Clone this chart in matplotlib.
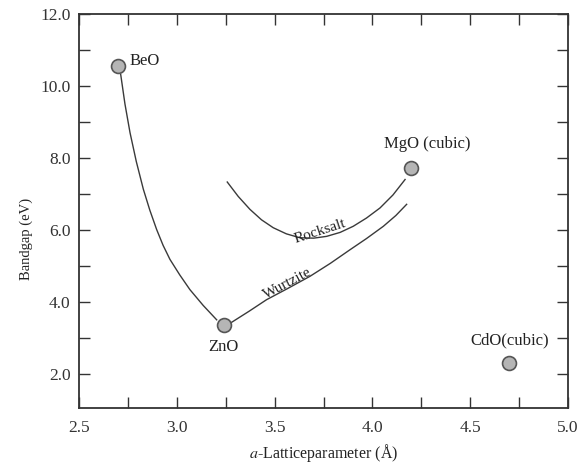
import matplotlib
matplotlib.use("Agg")
import matplotlib.pyplot as plt
from matplotlib.ticker import MultipleLocator

plt.rcParams['font.family'] = ['Liberation Serif', 'DejaVu Serif']
plt.rcParams['mathtext.fontset'] = 'stix'

# Compounds (marker points)
names = ["BeO", "ZnO", "MgO (cubic)", "CdO(cubic)"]
lattice = [2.70, 3.24, 4.196, 4.70]
gap = [10.55, 3.36, 7.73, 2.30]

# BeO -> ZnO curve
beo_zno_x = [2.713, 2.735, 2.761, 2.793, 2.829, 2.862, 2.897, 2.93, 2.965, 3.015, 3.067, 3.135, 3.204]
beo_zno_y = [10.33, 9.5, 8.70, 7.9, 7.13, 6.55, 6.01, 5.57, 5.18, 4.75, 4.34, 3.9, 3.50]

# Rocksalt curve
rock_x = [3.258, 3.314, 3.374, 3.433, 3.493, 3.56, 3.630, 3.70, 3.766, 3.835, 3.902, 3.97, 4.039, 4.105, 4.167]
rock_y = [7.33, 6.93, 6.57, 6.28, 6.06, 5.89, 5.78, 5.77, 5.82, 5.93, 6.10, 6.33, 6.61, 6.97, 7.40]

# Wurtzite curve
wurtz_x = [3.28, 3.37, 3.459, 3.57, 3.681, 3.785, 3.886, 3.97, 4.056, 4.12, 4.175]
wurtz_y = [3.43, 3.74, 4.06, 4.38, 4.71, 5.07, 5.45, 5.76, 6.10, 6.40, 6.71]

xticks = [2.5, 3.0, 3.5, 4.0, 4.5, 5.0]
yticks = [2.0, 4.0, 6.0, 8.0, 10.0, 12.0]

fig = plt.figure(figsize=(5.82, 4.76), dpi=100)
ax = fig.add_axes([0.1357, 0.1429, 0.8403, 0.8277])

lc = "#3a3a3a"
ax.plot(beo_zno_x, beo_zno_y, color=lc, lw=1.0)
ax.plot(rock_x, rock_y, color=lc, lw=1.0)
ax.plot(wurtz_x, wurtz_y, color=lc, lw=1.0)

ax.plot(lattice, gap, linestyle="none", marker="o", markersize=10,
        markerfacecolor="#b5b5b5", markeredgecolor="#555555", markeredgewidth=1.2, zorder=5)

fs = 12
tc = "#222222"
ax.annotate(names[0], (lattice[0], gap[0]), xytext=(8, 4), textcoords="offset points",
            ha="left", va="center", fontsize=fs, color=tc)
ax.annotate(names[1], (lattice[1], gap[1]), xytext=(0, -16), textcoords="offset points",
            ha="center", va="center", fontsize=fs, color=tc)
ax.annotate(names[2], (lattice[2], gap[2]), xytext=(12, 17), textcoords="offset points",
            ha="center", va="center", fontsize=fs, color=tc)
ax.annotate(names[3], (lattice[3], gap[3]), xytext=(0, 16), textcoords="offset points",
            ha="center", va="center", fontsize=fs, color=tc)

ax.text(3.73, 5.97, "Rocksalt", rotation=18, ha="center", va="center", fontsize=11, color=tc)
ax.text(3.565, 4.52, "Wurtzite", rotation=28, ha="center", va="center", fontsize=11, color=tc)

ax.set_xlim(2.5, 5.0)
ax.set_ylim(1.05, 12.0)
ax.set_xticks(xticks)
ax.set_yticks(yticks)
ax.set_xticklabels([f"{v:.1f}" for v in xticks])
ax.set_yticklabels([f"{v:.1f}" for v in yticks])
ax.xaxis.set_minor_locator(MultipleLocator(0.25))
ax.yaxis.set_minor_locator(MultipleLocator(1.0))
ax.tick_params(which="both", direction="in", length=8, width=1.0, color="#333333",
               top=True, right=True, labelsize=12.5, labelcolor="#333333")
ax.tick_params(axis="x", pad=9)
ax.tick_params(axis="y", pad=6)
for s in ax.spines.values():
    s.set_linewidth(1.3)
    s.set_color("#333333")

ax.set_xlabel(r"$a$-Latticeparameter (Å)", fontsize=11.5, color=tc, labelpad=4)
ax.set_ylabel("Bandgap (eV)", fontsize=10.5, color=tc)
ax.yaxis.set_label_coords(-0.095, 0.43)

fig.savefig("out.png", dpi=100)
